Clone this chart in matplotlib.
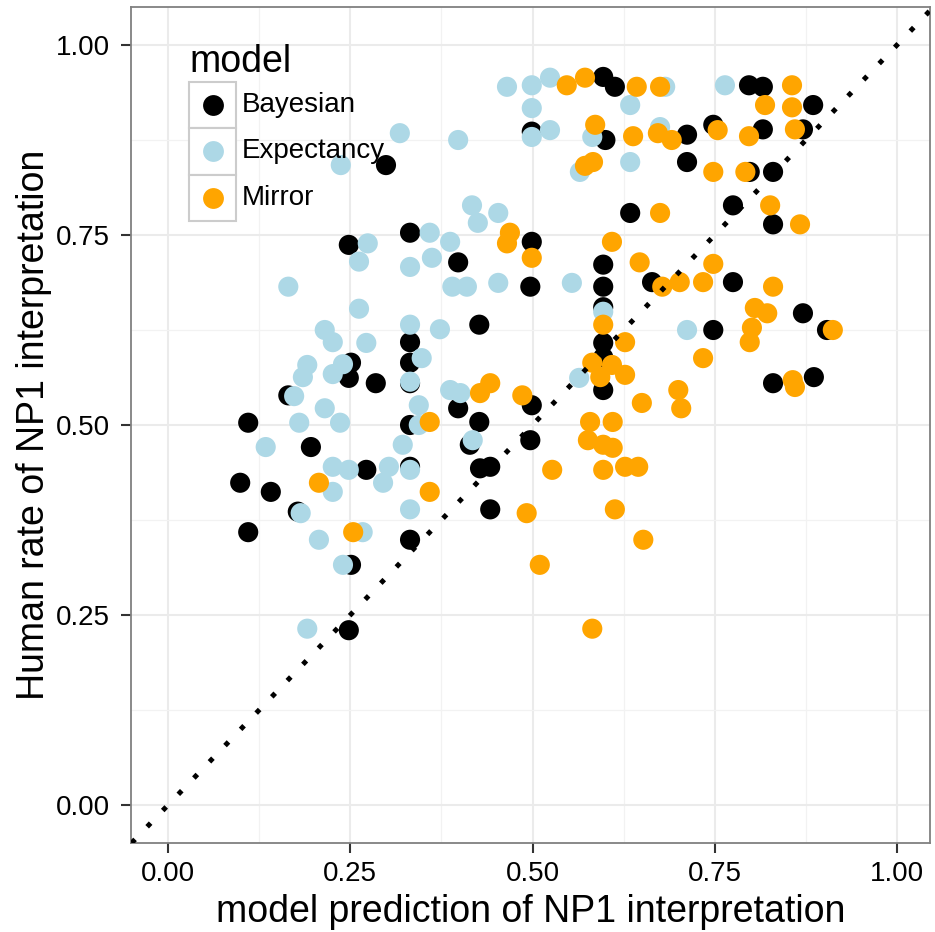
import matplotlib.pyplot as plt
from matplotlib.patches import Rectangle

plt.rcParams['font.family'] = ['Liberation Sans', 'DejaVu Sans']

# model predictions (x) and human rates (y)
bayes_x = [.099, .110, .110, .141, .165, .178, .196, .248, .251, .248, .285, .272,
           .251, .248, .299, .332, .332, .332, .332, .332, .332, .332, .398, .398,
           .427, .427, .414, .428, .442, .442, .499, .499, .497, .499, .497, .597,
           .613, .600, .597, .597, .597, .597, .597, .597, .634, .664, .712, .712,
           .748, .748, .775, .775, .797, .816, .816, .871, .885, .798, .830, .830,
           .871, .904, .830, .886]
bayes_y = [.424, .503, .359, .412, .539, .386, .471, .737, .582, .562, .555, .441,
           .316, .230, .842, .753, .609, .582, .555, .500, .445, .349, .714, .522,
           .632, .504, .474, .443, .445, .389, .886, .741, .682, .526, .480, .958,
           .945, .875, .711, .682, .655, .608, .589, .546, .779, .688, .882, .846,
           .895, .625, .789, .688, .947, .945, .889, .889, .921, .833, .833, .764,
           .647, .625, .555, .563]

expect_x = [.318, .237, .274, .262, .465, .499, .524, .499, .634, .499, .524, .398,
            .582, .675, .634, .565, .417, .453, .425, .359, .387, .764, .682, .165,
            .262, .215, .226, .272, .191, .185, .240, .226, .173, .215, .180, .236,
            .332, .362, .390, .410, .453, .554, .597, .332, .373, .348, .332, .387,
            .401, .564, .344, .344, .322, .418, .332, .332, .134, .226, .248, .303,
            .295, .226, .182, .267, .207, .240, .191, .712]
expect_y = [.884, .842, .739, .715, .945, .947, .957, .917, .921, .879, .888, .875,
            .879, .892, .846, .833, .789, .779, .766, .753, .741, .947, .945, .682,
            .653, .625, .609, .608, .579, .563, .580, .567, .538, .522, .503, .503,
            .708, .720, .682, .682, .687, .687, .649, .632, .626, .588, .557, .546,
            .542, .562, .526, .500, .474, .480, .441, .389, .471, .445, .441, .445,
            .424, .412, .384, .359, .349, .316, .232, .625]

mirror_x = [.547, .572, .643, .675, .586, .638, .672, .691, .583, .572, .675, .469,
            .465, .609, .856, .819, .856, .754, .797, .860, .748, .792, .826, .867,
            .748, .499, .647, .678, .734, .702, .830, .805, .822, .801, .798, .912,
            .734, .857, .860, .700, .704, .597, .627, .582, .609, .627, .593, .442,
            .428, .486, .650, .359, .579, .610, .576, .597, .610, .527, .597, .627,
            .645, .359, .492, .613, .652, .510, .582, .207, .254]
mirror_y = [.947, .957, .945, .945, .895, .880, .884, .875, .846, .841, .779, .753,
            .739, .741, .947, .921, .918, .888, .880, .889, .833, .833, .789, .764,
            .712, .720, .714, .682, .688, .688, .682, .654, .647, .628, .609, .625,
            .588, .559, .550, .546, .522, .632, .609, .582, .579, .566, .563, .555,
            .542, .539, .529, .504, .504, .504, .480, .474, .470, .441, .441, .445,
            .445, .412, .384, .389, .349, .316, .232, .424, .359]

models = ['Bayesian', 'Expectancy', 'Mirror']
colors = ['black', '#ADD8E6', '#FFA500']
ticks = [0.0, 0.25, 0.5, 0.75, 1.0]
tick_labels = ['0.00', '0.25', '0.50', '0.75', '1.00']

fig = plt.figure(figsize=(9.35, 9.32), dpi=100)
ax = fig.add_axes([131 / 935, 1 - 843 / 932, 799 / 935, 836 / 932])

for xs, ys, c in zip([bayes_x, expect_x, mirror_x], [bayes_y, expect_y, mirror_y], colors):
    ax.scatter(xs, ys, s=210, color=c, edgecolors='none', zorder=3)

ax.axline((0, 0), slope=1, color='black', lw=3.6, linestyle=(0, (1, 3.5)),
          dash_capstyle='butt', zorder=4)

ax.set_xlim(-0.0508, 1.0453)
ax.set_ylim(-0.05, 1.05)
ax.set_xticks(ticks)
ax.set_xticklabels(tick_labels)
ax.set_yticks(ticks)
ax.set_yticklabels(tick_labels)
ax.set_xticks([0.125, 0.375, 0.625, 0.875], minor=True)
ax.set_yticks([0.125, 0.375, 0.625, 0.875], minor=True)
ax.tick_params(which='major', length=7, width=1.5, color='#333333', labelsize=20)
ax.tick_params(axis='y', pad=8)
ax.tick_params(axis='x', pad=6)
ax.tick_params(which='minor', length=0)
ax.set_axisbelow(True)
ax.grid(which='major', color='#EBEBEB', lw=1.5)
ax.grid(which='minor', color='#F2F2F2', lw=0.9)
for sp in ax.spines.values():
    sp.set_color('#808080')
    sp.set_linewidth(1.3)

fig.text(530.5 / 935, 1 - 922 / 932, 'model prediction of NP1 interpretation',
         fontsize=27, ha='center', va='baseline')
fig.text(44 / 935, 1 - 425 / 932, 'Human rate of NP1 interpretation', fontsize=27,
         rotation=90, rotation_mode='anchor', ha='center', va='baseline')

# legend drawn by hand: ggplot style keys with grey borders
ax.text(0.0738, 0.9222, 'model', fontsize=27, transform=ax.transAxes,
        ha='left', va='baseline', zorder=6)
key_h = 0.0554
for i, (m, c) in enumerate(zip(models, colors)):
    top = 0.9103 - i * key_h
    ax.add_patch(Rectangle((0.0726, top - key_h), 0.0588, key_h, transform=ax.transAxes,
                           facecolor='white', edgecolor='#CCCCCC', lw=1.5, zorder=5))
    ax.plot([0.1026], [top - key_h / 2], 'o', ms=15, color=c, mec='none',
            transform=ax.transAxes, zorder=6)
    ax.text(0.1389, top - key_h / 2, m, fontsize=20, transform=ax.transAxes,
            ha='left', va='center', zorder=6)

fig.savefig('out.png', dpi=100)
